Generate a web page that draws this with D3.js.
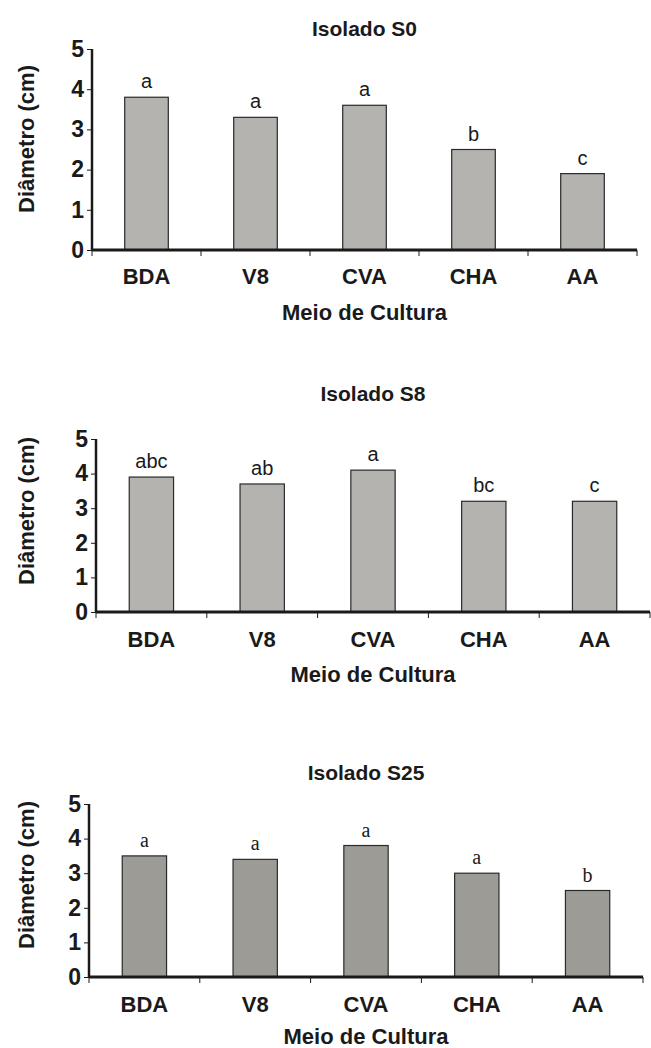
<!DOCTYPE html>
<html>
<head>
<meta charset="utf-8">
<script src="https://cdn.jsdelivr.net/npm/d3@7"></script>
<style>
  html, body { margin: 0; padding: 0; background: #fff; }
  svg { display: block; }
  text { fill: #1a1a1a; }
</style>
</head>
<body>
<svg id="chart" width="651" height="1048"></svg>
<script>
// Culture media (x categories) and y tick values
const categories = ["BDA", "V8", "CVA", "CHA", "AA"];
const yTicks = [0, 1, 2, 3, 4, 5];

// Colony diameter (cm) per isolate
const valuesS0 = [3.8, 3.3, 3.6, 2.5, 1.9];
const valuesS8 = [3.9, 3.7, 4.1, 3.2, 3.2];
const valuesS25 = [3.5, 3.4, 3.8, 3.0, 2.5];

// Significance letters per bar
const lettersS0 = ["a", "a", "a", "b", "c"];
const lettersS8 = ["abc", "ab", "a", "bc", "c"];
const lettersS25 = ["a", "a", "a", "a", "b"];

const titles = ["Isolado S0", "Isolado S8", "Isolado S25"];
const yTitle = "Diâmetro (cm)";
const xTitle = "Meio de Cultura";

const panels = [
  { title: titles[0], values: valuesS0, letters: lettersS0,
    x0: 92, x1: 637, yTop: 49, yBot: 250,
    titleY: 36, catY: 284, xTitleY: 320, yTitleX: 34, yTitleC: 139,
    fill: "#b4b3af", letterFont: "Liberation Sans, Arial, sans-serif" },
  { title: titles[1], values: valuesS8, letters: lettersS8,
    x0: 96, x1: 650, yTop: 439, yBot: 612,
    titleY: 401, catY: 647, xTitleY: 682, yTitleX: 34, yTitleC: 511,
    fill: "#b4b3af", letterFont: "Liberation Sans, Arial, sans-serif" },
  { title: titles[2], values: valuesS25, letters: lettersS25,
    x0: 89, x1: 643, yTop: 804, yBot: 977,
    titleY: 780, catY: 1012, xTitleY: 1044, yTitleX: 34, yTitleC: 875,
    fill: "#9c9b96", letterFont: "Liberation Serif, 'Times New Roman', serif" }
];

const svg = d3.select("#chart");
const boldFont = "Liberation Sans, Arial, sans-serif";

panels.forEach(p => {
  const g = svg.append("g");

  const x = d3.scaleBand()
    .domain(categories)
    .range([p.x0, p.x1])
    .paddingInner(0.6)
    .paddingOuter(0.3);

  const y = d3.scaleLinear().domain([0, 5]).range([p.yBot, p.yTop]);

  const cx = (p.x0 + p.x1) / 2;

  // Title
  g.append("text")
    .attr("x", cx).attr("y", p.titleY)
    .attr("text-anchor", "middle")
    .style("font-family", boldFont).style("font-weight", "bold").style("font-size", "21px")
    .text(p.title);

  // Bars
  g.selectAll("rect.bar")
    .data(categories)
    .join("rect")
    .attr("class", "bar")
    .attr("x", d => x(d))
    .attr("width", x.bandwidth())
    .attr("y", (d, i) => y(p.values[i]))
    .attr("height", (d, i) => y(0) - y(p.values[i]))
    .attr("fill", p.fill)
    .attr("stroke", "#2a2a2a")
    .attr("stroke-width", 1.2);

  // Significance letters
  g.selectAll("text.letter")
    .data(categories)
    .join("text")
    .attr("class", "letter")
    .attr("x", d => x(d) + x.bandwidth() / 2)
    .attr("y", (d, i) => y(p.values[i]) - 9)
    .attr("text-anchor", "middle")
    .style("font-family", p.letterFont)
    .style("font-size", "20px")
    .text((d, i) => p.letters[i]);

  // Y axis
  const yAxis = d3.axisLeft(y).tickValues(yTicks).tickFormat(d3.format("d")).tickSize(5).tickPadding(3);
  const ya = g.append("g").attr("transform", `translate(${p.x0},0)`).call(yAxis);
  ya.select(".domain").remove();
  ya.selectAll(".tick line").attr("stroke", "#1a1a1a").attr("stroke-width", 1);
  ya.selectAll(".tick text")
    .style("font-family", boldFont).style("font-weight", "bold").style("font-size", "23px")
    .attr("fill", "#1a1a1a");
  g.append("line")
    .attr("x1", p.x0).attr("x2", p.x0)
    .attr("y1", y(5)).attr("y2", y(0))
    .attr("stroke", "#1a1a1a").attr("stroke-width", 2.5);

  // X axis: category boundaries as tick marks
  const step = x.step();
  const gap = step - x.bandwidth();
  const bounds = categories.map(c => x(c) - gap / 2).concat([x(categories[categories.length - 1]) + x.bandwidth() + gap / 2]);
  g.selectAll("line.xtick")
    .data(bounds)
    .join("line")
    .attr("class", "xtick")
    .attr("x1", d => d).attr("x2", d => d)
    .attr("y1", y(0)).attr("y2", y(0) + 6)
    .attr("stroke", "#1a1a1a").attr("stroke-width", 1);
  g.append("line")
    .attr("x1", p.x0).attr("x2", bounds[bounds.length - 1])
    .attr("y1", y(0)).attr("y2", y(0))
    .attr("stroke", "#1a1a1a").attr("stroke-width", 3);

  // Category labels
  g.selectAll("text.cat")
    .data(categories)
    .join("text")
    .attr("class", "cat")
    .attr("x", d => x(d) + x.bandwidth() / 2)
    .attr("y", p.catY)
    .attr("text-anchor", "middle")
    .style("font-family", boldFont).style("font-weight", "bold").style("font-size", "22px")
    .text(d => d);

  // Axis titles
  g.append("text")
    .attr("x", cx).attr("y", p.xTitleY)
    .attr("text-anchor", "middle")
    .style("font-family", boldFont).style("font-weight", "bold").style("font-size", "22px")
    .text(xTitle);

  g.append("text")
    .attr("transform", `translate(${p.yTitleX},${p.yTitleC}) rotate(-90)`)
    .attr("text-anchor", "middle")
    .style("font-family", boldFont).style("font-weight", "bold").style("font-size", "22px")
    .text(yTitle);
});
</script>
</body>
</html>
